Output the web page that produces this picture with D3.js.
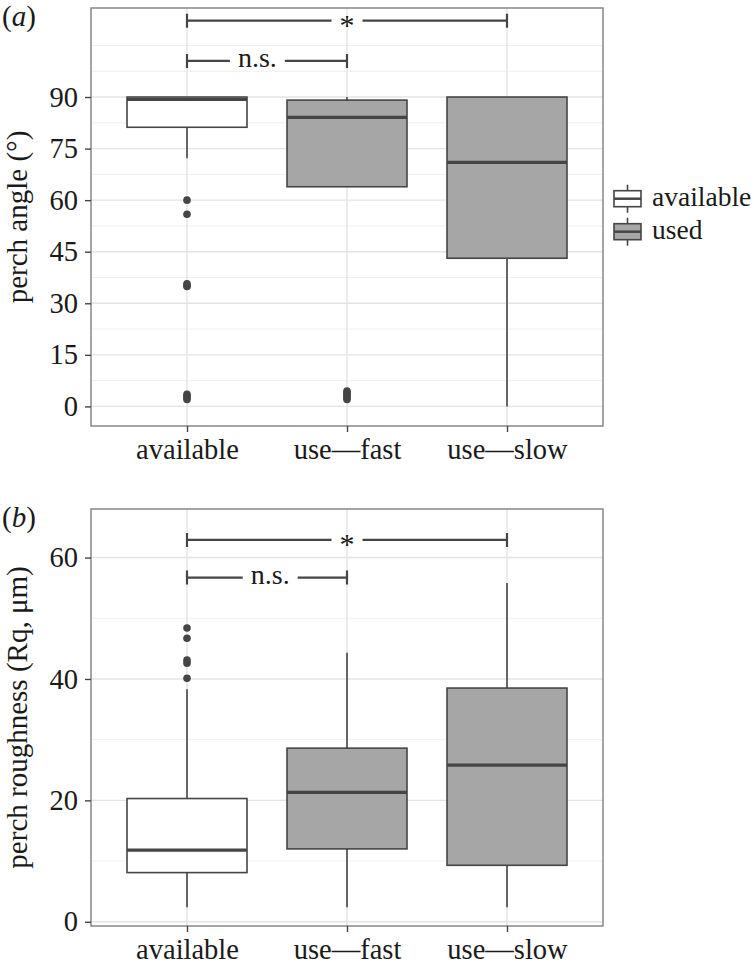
<!DOCTYPE html>
<html>
<head>
<meta charset="utf-8">
<script src="https://d3js.org/d3.v7.min.js"></script>
<style>
body{margin:0;background:#fff;}
text{font-family:"Liberation Serif","Times New Roman",serif;fill:#1a1a1a;}
</style>
</head>
<body>
<svg id="chart" width="754" height="966"></svg>
<script>
// categories + fill groups
var categories = ["available","use\u2014fast","use\u2014slow"];
var groups = ["available","used","used"];
var legendLabels = ["available","used"];

// (a) perch angle
var angleTicks = [0,15,30,45,60,75,90];
var angleMinor = [7.5,22.5,37.5,52.5,67.5,82.5,97.5,105];
var angleLower  = [72.2, 63.9, 0];
var angleQ1     = [81.2, 63.9, 43.1];
var angleMedian = [89.3, 84.1, 71.0];
var angleQ3     = [90, 89.1, 90];
var angleUpper  = [90, 90, 90];
var angleOutliers = [[60, 55.9, 35.7, 35.2, 34.9, 3.5, 3, 2.5, 2],
                     [4.5, 4, 3.5, 3, 2.5, 2],
                     []];
var angleBrackets = [{from:0, to:2, y:112.2, label:"*",    at:0.5},
                     {from:0, to:1, y:100.5, label:"n.s.", at:0.44}];

// (b) perch roughness
var roughTicks = [0,20,40,60];
var roughMinor = [10,30,50];
var roughLower  = [2.4, 2.4, 2.4];
var roughQ1     = [8.1, 12.0, 9.3];
var roughMedian = [11.8, 21.3, 25.8];
var roughQ3     = [20.3, 28.6, 38.5];
var roughUpper  = [38.3, 44.3, 55.8];
var roughOutliers = [[48.4, 46.7, 43.1, 42.6, 40.1], [], []];
var roughBrackets = [{from:0, to:2, y:62.9, label:"*",    at:0.5},
                     {from:0, to:1, y:56.7, label:"n.s.", at:0.52}];

var svg = d3.select("#chart");
var left = 91, right = 603;
var fills = {available:"#ffffff", used:"#a6a6a6"};
var ink = "#454545";

var x = d3.scalePoint().domain(categories).range([left, right]).padding(0.6);
var step = x.step();
var boxW = step * 0.75;

function drawPanel(o){
	var g = svg.append("g");
	var y = d3.scaleLinear().domain(o.domain).range([o.bottom, o.top]);

	// grid
	g.selectAll(".minor").data(o.minor).enter().append("line")
		.attr("x1", left).attr("x2", right)
		.attr("y1", function(d){ return y(d); }).attr("y2", function(d){ return y(d); })
		.attr("stroke", "#efefef").attr("stroke-width", 1);
	g.selectAll(".major").data(o.ticks).enter().append("line")
		.attr("x1", left).attr("x2", right)
		.attr("y1", function(d){ return y(d); }).attr("y2", function(d){ return y(d); })
		.attr("stroke", "#e4e4e4").attr("stroke-width", 1.4);
	g.selectAll(".vgrid").data(categories).enter().append("line")
		.attr("x1", function(d){ return x(d); }).attr("x2", function(d){ return x(d); })
		.attr("y1", o.top).attr("y2", o.bottom)
		.attr("stroke", "#e4e4e4").attr("stroke-width", 1.4);

	// boxes
	categories.forEach(function(c, i){
		var cx = x(c);
		g.append("line").attr("x1", cx).attr("x2", cx)
			.attr("y1", y(o.q3[i])).attr("y2", y(o.upper[i]))
			.attr("stroke", ink).attr("stroke-width", 1.6);
		g.append("line").attr("x1", cx).attr("x2", cx)
			.attr("y1", y(o.q1[i])).attr("y2", y(o.lower[i]))
			.attr("stroke", ink).attr("stroke-width", 1.6);
		g.append("rect")
			.attr("x", cx - boxW/2).attr("width", boxW)
			.attr("y", y(o.q3[i])).attr("height", y(o.q1[i]) - y(o.q3[i]))
			.attr("fill", fills[groups[i]]).attr("stroke", ink).attr("stroke-width", 1.6);
		g.append("line").attr("x1", cx - boxW/2).attr("x2", cx + boxW/2)
			.attr("y1", y(o.median[i])).attr("y2", y(o.median[i]))
			.attr("stroke", ink).attr("stroke-width", 3.2);
		g.selectAll(".out" + i).data(o.outliers[i]).enter().append("circle")
			.attr("cx", cx).attr("cy", function(d){ return y(d); })
			.attr("r", 3.8).attr("fill", ink);
	});

	// significance brackets
	o.brackets.forEach(function(b){
		var x1 = x(categories[b.from]), x2 = x(categories[b.to]), yy = y(b.y);
		var lx = x1 + b.at * (x2 - x1);
		var t = g.append("text").attr("x", lx).attr("text-anchor", "middle")
			.style("font-size", b.label == "*" ? "30px" : "28px")
			.attr("y", b.label == "*" ? yy + 14 : yy + 6.5)
			.text(b.label);
		var half = t.node().getComputedTextLength() / 2 + 8;
		g.append("path")
			.attr("d", "M" + x1 + "," + yy + "H" + (lx - half) + "M" + (lx + half) + "," + yy + "H" + x2 +
			           "M" + x1 + "," + (yy - 7) + "V" + (yy + 7) + "M" + x2 + "," + (yy - 7) + "V" + (yy + 7))
			.attr("fill", "none").attr("stroke", ink).attr("stroke-width", 2.2);
	});

	// border
	g.append("rect").attr("x", left).attr("y", o.top)
		.attr("width", right - left).attr("height", o.bottom - o.top)
		.attr("fill", "none").attr("stroke", "#7f7f7f").attr("stroke-width", 1.4);

	// axes
	var ya = g.append("g").attr("transform", "translate(" + left + ",0)")
		.call(d3.axisLeft(y).tickValues(o.ticks).tickSize(6).tickPadding(7));
	var xa = g.append("g").attr("transform", "translate(0," + o.bottom + ")")
		.call(d3.axisBottom(x).tickSize(6).tickPadding(7));
	[ya, xa].forEach(function(a){
		a.select(".domain").remove();
		a.selectAll(".tick line").attr("stroke", "#444").attr("stroke-width", 1.4);
		a.selectAll("text").style("font-size", "28.5px").style("font-family", null).attr("fill", "#1a1a1a");
	});

	// axis title
	g.append("text")
		.attr("transform", "translate(27," + ((o.top + o.bottom) / 2) + ") rotate(-90)")
		.attr("text-anchor", "middle").style("font-size", "29px")
		.text(o.title);

	// panel tag
	var tag = g.append("text").attr("x", 2).attr("y", o.top + 18).style("font-size", "29px");
	tag.append("tspan").text("(");
	tag.append("tspan").style("font-style", "italic").text(o.tag);
	tag.append("tspan").text(")");

	return y;
}

drawPanel({top:8, bottom:426, domain:[-5.7, 115.9], ticks:angleTicks, minor:angleMinor,
	lower:angleLower, q1:angleQ1, median:angleMedian, q3:angleQ3, upper:angleUpper,
	outliers:angleOutliers, brackets:angleBrackets, title:"perch angle (\u00b0)", tag:"a"});

drawPanel({top:509, bottom:926, domain:[-0.7, 68.0], ticks:roughTicks, minor:roughMinor,
	lower:roughLower, q1:roughQ1, median:roughMedian, q3:roughQ3, upper:roughUpper,
	outliers:roughOutliers, brackets:roughBrackets, title:"perch roughness (Rq, \u03bcm)", tag:"b"});

// legend
var leg = svg.append("g").attr("transform", "translate(614,0)");
legendLabels.forEach(function(l, i){
	var cy = 198.7 + i * 33;
	leg.append("line").attr("x1", 13.5).attr("x2", 13.5).attr("y1", cy - 14).attr("y2", cy + 14)
		.attr("stroke", ink).attr("stroke-width", 1.6);
	leg.append("rect").attr("x", 0).attr("y", cy - 8).attr("width", 27).attr("height", 16)
		.attr("fill", fills[l]).attr("stroke", ink).attr("stroke-width", 1.6);
	leg.append("line").attr("x1", 0).attr("x2", 27).attr("y1", cy).attr("y2", cy)
		.attr("stroke", ink).attr("stroke-width", 2.5);
	leg.append("text").attr("x", 38).attr("y", cy + 7.5).style("font-size", "27.5px").text(l);
});
</script>
</body>
</html>
